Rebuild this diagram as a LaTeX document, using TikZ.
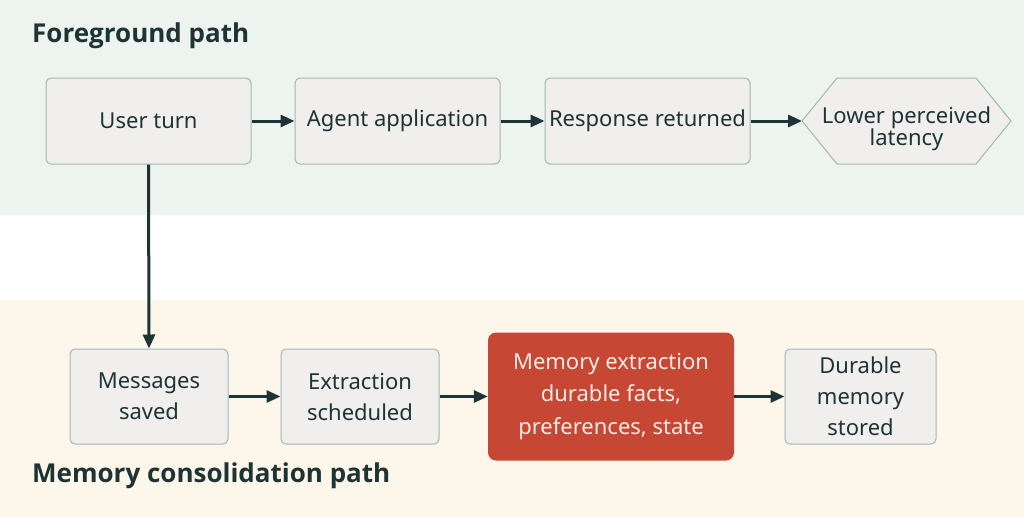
\documentclass[tikz,border=0pt]{standalone}
\usepackage{fontspec}
\setmainfont{Noto Sans}
\newfontfamily\titlefont{Open Sans}
\usetikzlibrary{arrows.meta}
\definecolor{topband}{HTML}{EDF3EF}
\definecolor{botband}{HTML}{FDF6EB}
\definecolor{boxfill}{HTML}{F0EFEE}
\definecolor{boxline}{HTML}{9EB8B2}
\definecolor{ink}{HTML}{1E3333}
\definecolor{redfill}{HTML}{C74735}
\definecolor{redtext}{HTML}{F8EBE3}
\tikzset{
  box/.style={draw=boxline, line width=1pt, fill=boxfill, rounded corners=5pt, text=ink,
    font=\fontsize{22}{31}\selectfont, align=center, inner sep=0pt},
  hotbox/.style={fill=redfill, rounded corners=8pt, text=redtext,
    font=\fontsize{22}{32.5}\selectfont, align=center, inner sep=0pt},
  flow/.style={draw=ink, line width=3pt, -{Triangle[length=14pt,width=12pt]}},
  title/.style={font=\titlefont\bfseries\fontsize{26}{30}\selectfont, text=ink, anchor=west, inner sep=0pt}
}
\begin{document}
\begin{tikzpicture}[x=1pt,y=-1pt]
\useasboundingbox (0,0) rectangle (1024,517);
\fill[topband] (0,0) rectangle (1024,215);
\fill[botband] (0,300) rectangle (1024,517);
\node[title] (t1) at (32,36) {Foreground path};
\node[title] (t2) at (32,476) {Memory consolidation path};
% top row
\node[box, minimum width=205pt, minimum height=86pt] (user) at (148.5,121) {User turn};
\node[box, minimum width=205pt, minimum height=86pt] (agent) at (397.5,121) {Agent application};
\node[box, minimum width=205pt, minimum height=86pt] (resp) at (647.5,121) {Response returned};
\coordinate (hl) at (802,121);
\draw[draw=boxline, line width=1pt, fill=boxfill] (802,121) -- (837,78) -- (976,78) -- (1011,121) -- (976,164) -- (837,164) -- cycle;
\node[text=ink, font=\fontsize{22}{22}\selectfont, align=center, inner sep=0pt] (lat) at (906.5,128.5) {Lower perceived\\latency};
% bottom row
\node[box, minimum width=158pt, minimum height=95pt] (msg) at (149,396.5) {Messages\\saved};
\node[box, minimum width=158pt, minimum height=95pt] (ext) at (360,396.5) {Extraction\\scheduled};
\node[hotbox, minimum width=246pt, minimum height=128pt] (mem) at (611,396.5) {\raisebox{-2pt}{\parbox{240pt}{\centering Memory extraction\\durable facts,\\preferences, state}}};
\node[box, minimum width=151pt, minimum height=95pt] (dur) at (860.5,396.5) {Durable\\memory\\stored};
% connectors
\draw[flow] (user.east) -- (agent.west);
\draw[flow] (agent.east) -- (resp.west);
\draw[flow] (resp.east) -- (hl);
\draw[flow] (user.south) -- (msg.north);
\draw[flow] (msg.east) -- (ext.west);
\draw[flow] (ext.east) -- (mem.west);
\draw[flow] (mem.east) -- (dur.west);
\end{tikzpicture}
\end{document}
